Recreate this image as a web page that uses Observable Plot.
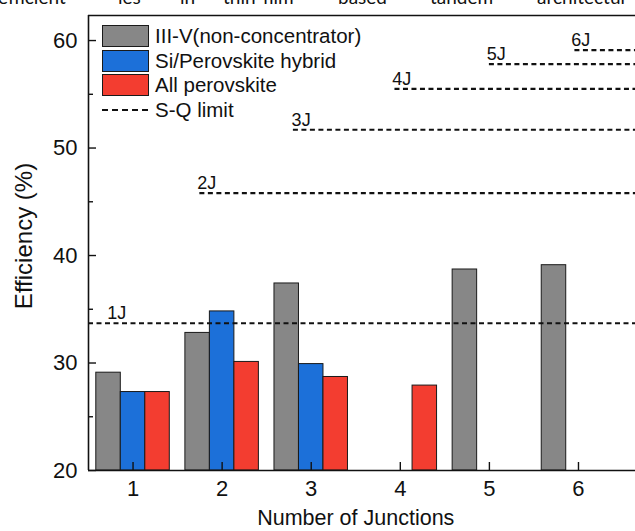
<!DOCTYPE html>
<html>
<head>
<meta charset="utf-8">
<script src="https://cdn.jsdelivr.net/npm/d3@7"></script>
<script src="https://cdn.jsdelivr.net/npm/@observablehq/plot@0.6"></script>
<style>
  html, body { margin: 0; padding: 0; background: white; }
  #wrap { position: relative; width: 635px; height: 531px; overflow: hidden; font-family: "Liberation Sans", Arial, sans-serif; }
  #toptext span { position: absolute; top: -13px; font-family: Lato, "Open Sans", sans-serif; font-size: 19px; line-height: 19px; color: #111; white-space: nowrap; }
  .leg { position: absolute; font-size: 20.5px; color: #111; white-space: nowrap; line-height: 22px; }
  .sw { position: absolute; width: 45px; height: 20px; border: 1.2px solid #1a1a1a; }
  .dash { position: absolute; width: 46px; height: 0; border-top: 2px dashed #111; }
</style>
</head>
<body>
<div id="wrap">
  <div id="chart"></div>
  <div id="toptext"></div>
  <div id="legend"></div>
</div>
<script>
// ---- data ----
const junctions = [1, 2, 3, 4, 5, 6];
const seriesNames = ["III-V(non-concentrator)", "Si/Perovskite hybrid", "All perovskite"];
const seriesColors = ["#878787", "#1c70d9", "#f33d30"];
const iiiV = [29.1, 32.8, 37.4, null, 38.7, 39.1];
const hybrid = [27.3, 34.8, 29.9, null, null, null];
const allPerovskite = [27.3, 30.1, 28.7, 27.9, null, null];
const sqLabels = ["1J", "2J", "3J", "4J", "5J", "6J"];
const sqLimit = [33.7, 45.8, 51.7, 55.5, 57.8, 59.1];
const sqStart = [0.5, 1.75, 2.8, 3.94, 5.0, 5.96];
const sqLabelX = [0.71, 1.72, 2.78, 3.91, 4.97, 5.92];
const yMajorTicks = [20, 30, 40, 50, 60];
const yMinorTicks = [25, 35, 45, 55];
const xTicks = [1, 2, 3, 4, 5, 6];
const xLabel = "Number of Junctions";
const yLabel = "Efficiency (%)";
const sqLegend = "S-Q limit";
const topWords = ["efficient", "ies", "in", "thin-film", "based", "tandem", "architectur"];
const topWordX = [-2, 118, 180, 223, 338, 430, 537];

// ---- layout constants ----
const xDomain = [0.5, 6.64];
const yDomain = [20, 62.33];
const barW = 0.275;
const offsets = [-barW, 0, barW];

const seriesValues = [iiiV, hybrid, allPerovskite];
const barMarks = seriesValues.map((vals, s) => {
  const rows = junctions.map((j, i) => ({j, v: vals[i]})).filter(d => d.v != null);
  return Plot.rectY(rows, {
    x1: d => d.j + offsets[s] - barW / 2,
    x2: d => d.j + offsets[s] + barW / 2,
    y1: yDomain[0],
    y2: d => d.v,
    fill: seriesColors[s],
    stroke: "#1a1a1a",
    strokeWidth: 1
  });
});

const sq = sqLabels.map((name, i) => ({name, v: sqLimit[i], x0: sqStart[i], lx: sqLabelX[i]}));

const chart = Plot.plot({
  width: 635,
  height: 531,
  marginLeft: 88,
  marginRight: 0,
  marginTop: 15,
  marginBottom: 61,
  x: {domain: xDomain},
  y: {domain: yDomain},
  style: {fontFamily: "'Liberation Sans', Arial, sans-serif", background: "white", color: "#111"},
  marks: [
    ...barMarks,
    Plot.ruleY(sq, {y: "v", x1: "x0", x2: xDomain[1], stroke: "#111", strokeWidth: 2.2, strokeDasharray: "5,3.5"}),
    Plot.text(sq, {x: "lx", y: "v", text: "name", textAnchor: "start", dy: -10, fontSize: 18, fill: "#111"}),
    Plot.axisY(yMajorTicks, {tickSize: -8, tickPadding: 19, fontSize: 22, label: null, strokeWidth: 1.4}),
    Plot.axisY(yMinorTicks, {tickSize: -5, tickFormat: () => "", label: null, strokeWidth: 1.4}),
    Plot.axisX(xTicks, {tickSize: -8, tickPadding: 18, fontSize: 22, label: null, strokeWidth: 1.4}),
    Plot.ruleX([xDomain[0]], {stroke: "#111", strokeWidth: 1.6}),
    Plot.ruleY([yDomain[0]], {stroke: "#111", strokeWidth: 1.6}),
    Plot.ruleY([yDomain[1]], {stroke: "#111", strokeWidth: 1.6}),
    Plot.text([xLabel], {x: 3.5, frameAnchor: "bottom", lineAnchor: "middle", dy: 48, text: d => d, fontSize: 21.5, fill: "#111"}),
    Plot.text([yLabel], {frameAnchor: "left", textAnchor: "middle", dx: -64, dy: -7, rotate: -90, text: d => d, fontSize: 24, fill: "#111"})
  ]
});
document.getElementById("chart").appendChild(chart);

// top cropped body text
const tt = document.getElementById("toptext");
topWords.forEach((w, i) => {
  const s = document.createElement("span");
  s.textContent = w;
  s.style.left = topWordX[i] + "px";
  tt.appendChild(s);
});

// legend
const leg = document.getElementById("legend");
const legTop = 25, legStep = 24.5, swLeft = 102, txtLeft = 155;
seriesNames.forEach((name, i) => {
  const sw = document.createElement("div");
  sw.className = "sw";
  sw.style.left = swLeft + "px";
  sw.style.top = (legTop + i * legStep) + "px";
  sw.style.background = seriesColors[i];
  leg.appendChild(sw);
  const t = document.createElement("div");
  t.className = "leg";
  t.textContent = name;
  t.style.left = txtLeft + "px";
  t.style.top = (legTop + i * legStep) + "px";
  leg.appendChild(t);
});
const d = document.createElement("div");
d.className = "dash";
d.style.left = swLeft + "px";
d.style.top = (legTop + 3 * legStep + 10) + "px";
leg.appendChild(d);
const t = document.createElement("div");
t.className = "leg";
t.textContent = sqLegend;
t.style.left = txtLeft + "px";
t.style.top = (legTop + 3 * legStep) + "px";
leg.appendChild(t);
</script>
</body>
</html>
